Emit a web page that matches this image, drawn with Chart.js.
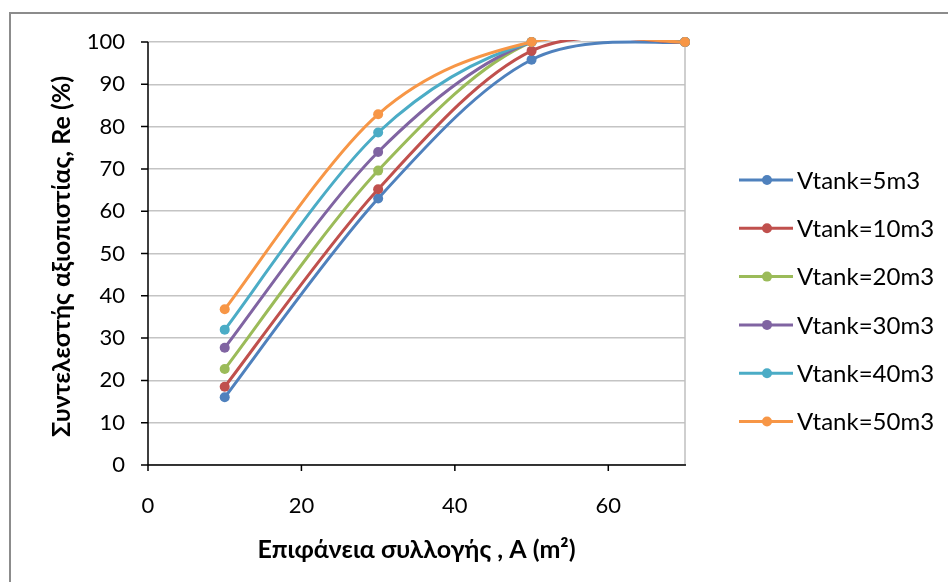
<!DOCTYPE html>
<html>
<head>
<meta charset="utf-8">
<script src="https://cdn.jsdelivr.net/npm/chart.js@4"></script>
<style>
  html, body { margin: 0; padding: 0; background: #fff; }
  #wrap { position: relative; width: 948px; height: 582px; overflow: hidden; }
  #frame { position: absolute; left: 9px; top: 12px; width: 960px; height: 600px;
           border-top: 2px solid #8c8c8c; border-left: 2px solid #8c8c8c; pointer-events: none; }
  canvas { position: absolute; left: 0; top: 0; }
</style>
</head>
<body>
<div id="wrap">
  <canvas id="chart" width="948" height="582"></canvas>
  <div id="frame"></div>
</div>
<script>
// collector area A (m2) and reliability Re (%) per tank volume
const areas = [10, 30, 50, 70];
const re5 = [16.0, 63.0, 95.8, 100];
const re10 = [18.5, 65.2, 97.9, 100];
const re20 = [22.7, 69.6, 100, 100];
const re30 = [27.7, 74.0, 100, 100];
const re40 = [32.0, 78.6, 100, 100];
const re50 = [36.8, 82.9, 100, 100];

const seriesNames = ['Vtank=5m3', 'Vtank=10m3', 'Vtank=20m3', 'Vtank=30m3', 'Vtank=40m3', 'Vtank=50m3'];
const seriesValues = [re5, re10, re20, re30, re40, re50];
const seriesColors = ['#4F81BD', '#C0504D', '#9BBB59', '#8064A2', '#4BACC6', '#F79646'];

const xTicks = [0, 20, 40, 60];
const yTicks = [0, 10, 20, 30, 40, 50, 60, 70, 80, 90, 100];

const xTitle = 'Επιφάνεια συλλογής , A (m²)';
const yTitle = 'Συντελεστής αξιοπιστίας, Re (%)';

const FONT = "Lato, 'Open Sans', sans-serif";
const n = seriesValues.length;

// every series = a smoothed line (clipped at the plot top) + its markers
const datasets = [];
seriesValues.forEach((vals, i) => {
  const pts = areas.map((a, j) => ({ x: a, y: vals[j] }));
  datasets.push({
    label: seriesNames[i],
    data: pts,
    borderColor: seriesColors[i],
    borderWidth: 3,
    pointRadius: 0,
    showLine: true,
    tension: 0.35,
    clip: { left: false, top: 2, right: false, bottom: false },
    order: 2 * (n - i) + 1
  });
  datasets.push({
    label: seriesNames[i] + ' markers',
    data: pts,
    backgroundColor: seriesColors[i],
    pointRadius: 5,
    pointBorderWidth: 0,
    showLine: false,
    clip: false,
    order: 2 * (n - i)
  });
});

// Excel style smoothing: Catmull-Rom control points, no capping
const excelSmooth = {
  id: 'excelSmooth',
  beforeDatasetDraw(chart, args) {
    const line = args.meta.dataset;
    if (!line || !chart.data.datasets[args.index].showLine) return;
    line.updateControlPoints(chart.chartArea);
    const pts = args.meta.data;
    pts.forEach((p, j) => {
      const prev = pts[j - 1] || p;
      const next = pts[j + 1] || p;
      const dx = (next.x - prev.x) / 6;
      const dy = (next.y - prev.y) / 6;
      p.cp1x = p.x - dx; p.cp1y = p.y - dy;
      p.cp2x = p.x + dx; p.cp2y = p.y + dy;
    });
    line._pointsUpdated = true;
    line._path = undefined;
  }
};

// axes, plot border, titles and legend in the Excel look
const decorations = {
  id: 'decorations',
  beforeDatasetsDraw(chart) {
    const { ctx, chartArea: a } = chart;
    ctx.save();
    ctx.strokeStyle = '#bfbfbf';
    ctx.lineWidth = 1.5;
    ctx.beginPath();
    ctx.moveTo(a.right, a.top);
    ctx.lineTo(a.right, a.bottom);
    ctx.stroke();
    ctx.restore();
  },
  afterDraw(chart) {
    const { ctx, chartArea: a, scales: { x, y } } = chart;
    ctx.save();
    ctx.strokeStyle = '#000';
    ctx.lineWidth = 1.5;
    ctx.beginPath();
    ctx.moveTo(a.left, a.top);
    ctx.lineTo(a.left, a.bottom + 6);
    yTicks.forEach(v => {
      const py = y.getPixelForValue(v);
      ctx.moveTo(a.left - 7, py);
      ctx.lineTo(a.left, py);
    });
    ctx.moveTo(a.left, a.bottom);
    ctx.lineTo(a.right + 1, a.bottom);
    xTicks.forEach(v => {
      const px = x.getPixelForValue(v);
      ctx.moveTo(px, a.bottom);
      ctx.lineTo(px, a.bottom + 6);
    });
    ctx.stroke();

    // axis titles, centred on the plot area
    ctx.fillStyle = '#000';
    ctx.font = 'bold 25px ' + FONT;
    ctx.textAlign = 'center';
    ctx.textBaseline = 'middle';
    ctx.fillText(xTitle, (a.left + a.right) / 2, 550);
    ctx.save();
    ctx.translate(62, (a.top + a.bottom) / 2 + 3);
    ctx.rotate(-Math.PI / 2);
    ctx.fillText(yTitle, 0, 0);
    ctx.restore();

    // legend
    ctx.font = '24px ' + FONT;
    ctx.textAlign = 'left';
    seriesNames.forEach((name, i) => {
      const ly = 180 + i * 48.3;
      ctx.strokeStyle = seriesColors[i];
      ctx.lineWidth = 3;
      ctx.beginPath();
      ctx.moveTo(739, ly);
      ctx.lineTo(793, ly);
      ctx.stroke();
      ctx.fillStyle = seriesColors[i];
      ctx.beginPath();
      ctx.arc(767, ly, 5, 0, Math.PI * 2);
      ctx.fill();
      ctx.fillStyle = '#000';
      ctx.fillText(name, 797, ly + 1);
    });
    ctx.restore();
  }
};

new Chart(document.getElementById('chart'), {
  type: 'scatter',
  data: { datasets },
  options: {
    responsive: false,
    animation: false,
    devicePixelRatio: 1,
    layout: { padding: { left: 0, right: 263, top: 42, bottom: 0 } },
    plugins: { legend: { display: false }, tooltip: { enabled: false } },
    scales: {
      x: {
        type: 'linear',
        min: 0,
        max: 70,
        afterBuildTicks: s => { s.ticks = xTicks.map(v => ({ value: v })); },
        afterFit: s => { s.height = 117; },
        grid: { display: false, drawTicks: false },
        border: { display: false },
        ticks: { color: '#000', padding: 28, font: { family: FONT, size: 22 } }
      },
      y: {
        min: 0,
        max: 100,
        afterBuildTicks: s => { s.ticks = yTicks.map(v => ({ value: v })); },
        afterFit: s => { s.width = 148; },
        grid: { color: '#c4c4c4', lineWidth: 1.5, drawTicks: false },
        border: { display: false },
        ticks: { color: '#000', padding: 23, font: { family: FONT, size: 22 } }
      }
    }
  },
  plugins: [excelSmooth, decorations]
});
</script>
</body>
</html>
